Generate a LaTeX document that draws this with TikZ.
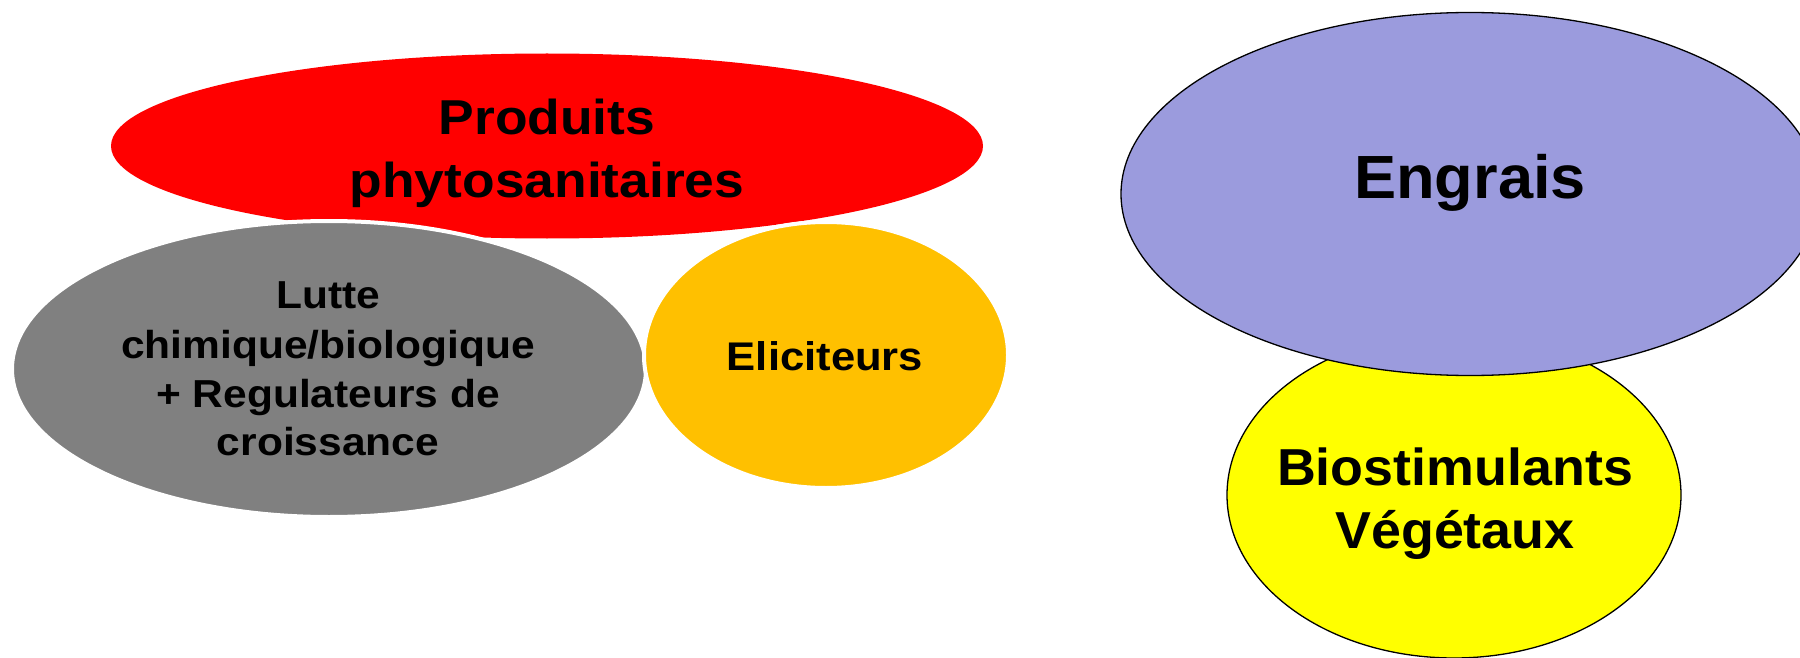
\documentclass[tikz,border=0pt]{standalone}
\usepackage{fontspec}
\usepackage{graphicx}
\setmainfont{Liberation Sans}
\usetikzlibrary{shapes.geometric}
\definecolor{cred}{HTML}{FF0000}
\definecolor{cgray}{HTML}{808080}
\definecolor{corange}{HTML}{FFC000}
\definecolor{cpurple}{HTML}{9B9BDD}
\definecolor{cyellow}{HTML}{FFFF00}
\tikzset{
  blob/.style={ellipse, inner sep=0pt, outer sep=0pt},
  gap/.style={blob, draw=white, line width=4pt},
  framed/.style={blob, draw=black, line width=1.3pt},
  lbl/.style={anchor=base, inner sep=0pt, font=\bfseries}
}
\newcommand{\wideL}[1]{\scalebox{1.09}[1]{#1}}
\newcommand{\wideR}[1]{\scalebox{1.035}[1]{#1}}
\begin{document}
\begin{tikzpicture}[x=1pt,y=-1pt]
\useasboundingbox[fill=white] (0,0) rectangle (1800,658);
% left group
\node[blob, fill=cred, minimum width=872pt, minimum height=185pt] (red) at (547,146) {};
\node[gap, fill=cgray, minimum width=634pt, minimum height=296pt] (gray) at (329,369) {};
\node[gap, fill=corange, minimum width=364pt, minimum height=266pt] (orange) at (826,355) {};
% right group
\node[framed, fill=cyellow, minimum width=454pt, minimum height=326pt] (yellow) at (1454,495) {};
\node[framed, fill=cpurple, minimum width=698pt, minimum height=363pt] (purple) at (1470,194) {};
% texts
\node[lbl, font=\bfseries\fontsize{49}{62}\selectfont] (t1) at (547,135) {\wideL{Produits}};
\node[lbl, font=\bfseries\fontsize{49}{62}\selectfont] (t2) at (547,197) {\wideL{phytosanitaires}};
\node[lbl, font=\bfseries\fontsize{39}{49}\selectfont] (g1) at (328,308) {\wideL{Lutte}};
\node[lbl, font=\bfseries\fontsize{39}{49}\selectfont] (g2) at (328,358) {\wideL{chimique/biologique}};
\node[lbl, font=\bfseries\fontsize{39}{49}\selectfont] (g3) at (328,407) {\wideL{+ Regulateurs de}};
\node[lbl, font=\bfseries\fontsize{39}{49}\selectfont] (g4) at (328,455) {\wideL{croissance}};
\node[lbl, font=\bfseries\fontsize{40}{49}\selectfont] (e1) at (825,370) {\wideL{Eliciteurs}};
\node[lbl, font=\bfseries\fontsize{61}{70}\selectfont] (en) at (1470,199) {\wideR{Engrais}};
\node[lbl, font=\bfseries\fontsize{52}{63}\selectfont] (b1) at (1455,485) {\wideR{Biostimulants}};
\node[lbl, font=\bfseries\fontsize{52}{63}\selectfont] (b2) at (1455,548) {\wideR{Végétaux}};
\end{tikzpicture}
\end{document}
